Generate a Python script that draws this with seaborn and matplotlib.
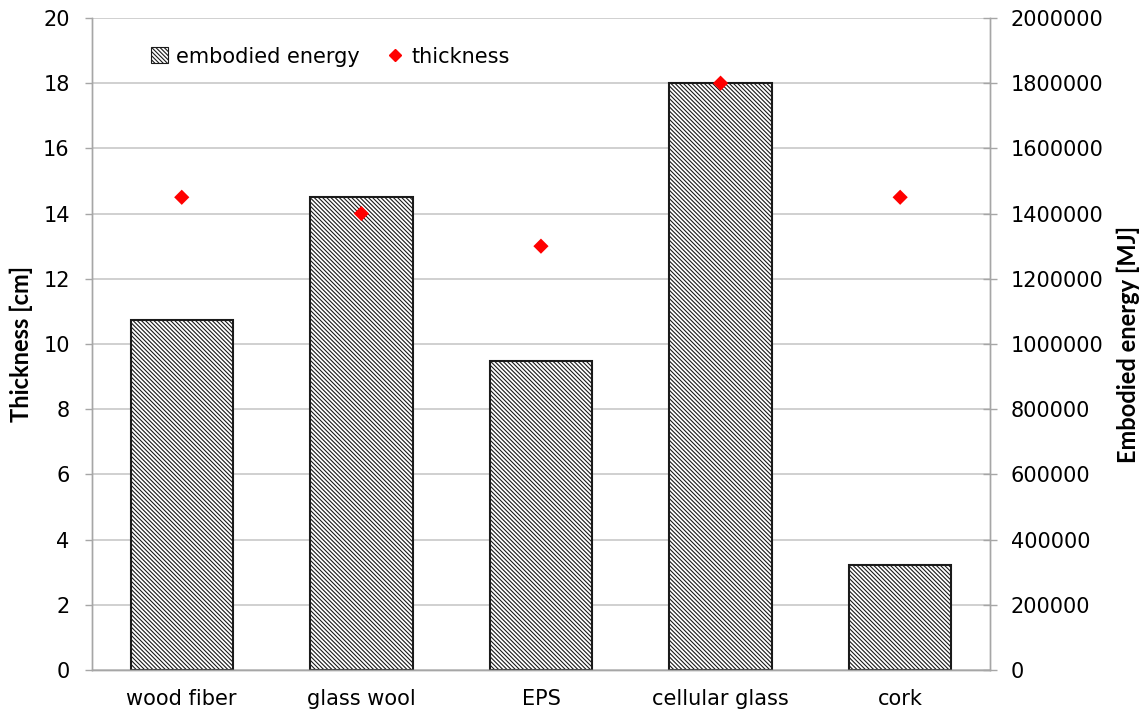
import matplotlib
matplotlib.use("Agg")
import matplotlib.pyplot as plt
import seaborn as sns
import pandas as pd
from matplotlib.patches import Patch
from matplotlib.lines import Line2D

categories = ["wood fiber", "glass wool", "EPS", "cellular glass", "cork"]
embodied_energy = [1075000, 1450000, 948000, 1800000, 323000]
thickness = [14.5, 14.0, 13.0, 18.0, 14.5]
left_ticks = list(range(0, 21, 2))
right_ticks = list(range(0, 2000001, 200000))

sns.set_theme(style="white")
plt.rcParams['font.family'] = ['DejaVu Sans']
plt.rcParams['hatch.linewidth'] = 0.8
plt.rcParams['text.color'] = 'black'
plt.rcParams['axes.labelcolor'] = 'black'
plt.rcParams['xtick.labelcolor'] = 'black'
plt.rcParams['ytick.labelcolor'] = 'black'

HATCH = "\\\\\\\\\\\\\\\\"
df = pd.DataFrame({"material": categories, "energy": embodied_energy, "thickness": thickness})

fig = plt.figure(figsize=(11.45, 7.19), dpi=100)
ax = fig.add_subplot(111)
fig.subplots_adjust(left=0.0803, right=0.8646, top=0.975, bottom=0.0682)
ax2 = ax.twinx()

# bars on the right axis
sns.barplot(data=df, x="material", y="energy", ax=ax2, color="white",
            edgecolor="black", linewidth=1.5, width=0.57, saturation=1)
for p in ax2.patches:
    p.set_hatch(HATCH)
    p.set_facecolor("white")
    p.set_edgecolor("#1a1a1a")

ax2.set_ylim(0, 2000000)
ax2.set_yticks(right_ticks)
ax2.set_yticklabels([str(v) for v in right_ticks])
ax2.yaxis.grid(True, color="#c8c8c8", linewidth=1.2)
ax2.set_axisbelow(True)

# diamonds on the left axis
sns.scatterplot(data=df, x="material", y="thickness", ax=ax, marker="D",
                color="#ff0000", s=60, edgecolor="none", zorder=5)
ax.set_ylim(0, 20)
ax.set_yticks(left_ticks)
ax.set_xlim(-0.5, 4.5)
ax2.set_xlim(-0.5, 4.5)

ax.set_zorder(ax2.get_zorder() + 1)
ax.patch.set_visible(False)

title_font = dict(fontsize=17, fontweight="bold", family=["Lato", "DejaVu Sans"])
ax.set_xlabel("")
ax2.set_xlabel("")
ax.set_ylabel("Thickness [cm]", labelpad=7, **title_font)
ax2.set_ylabel("Embodied energy [MJ]", labelpad=9, **title_font)

for a in (ax, ax2):
    for s in a.spines.values():
        s.set_color("#a6a6a6")
        s.set_linewidth(1.0)
    a.spines["top"].set_visible(False)

ax.tick_params(axis="y", direction="out", length=5, width=1, color="#a6a6a6",
               labelsize=15, pad=11, left=True)
ax.tick_params(axis="x", length=0, labelsize=15, pad=14)
ax2.tick_params(axis="y", direction="inout", length=10, width=1, color="#a6a6a6",
                labelsize=15, pad=10, right=True)
ax2.tick_params(axis="x", length=0, labelbottom=False)
ax.set_xticks(range(len(categories)))
ax.set_xticklabels(categories)

handles = [Patch(facecolor="white", edgecolor="#1a1a1a", hatch=HATCH, linewidth=0.8),
           Line2D([], [], marker="D", linestyle="none", color="#ff0000", markersize=6)]
ax.legend(handles, ["embodied energy", "thickness"], loc="upper left",
          bbox_to_anchor=(0.045, 0.985), ncol=2, frameon=False, fontsize=15,
          handlelength=0.8, handleheight=0.8, columnspacing=1.3, handletextpad=0.4)

fig.savefig("out.png", dpi=100, facecolor="white")
